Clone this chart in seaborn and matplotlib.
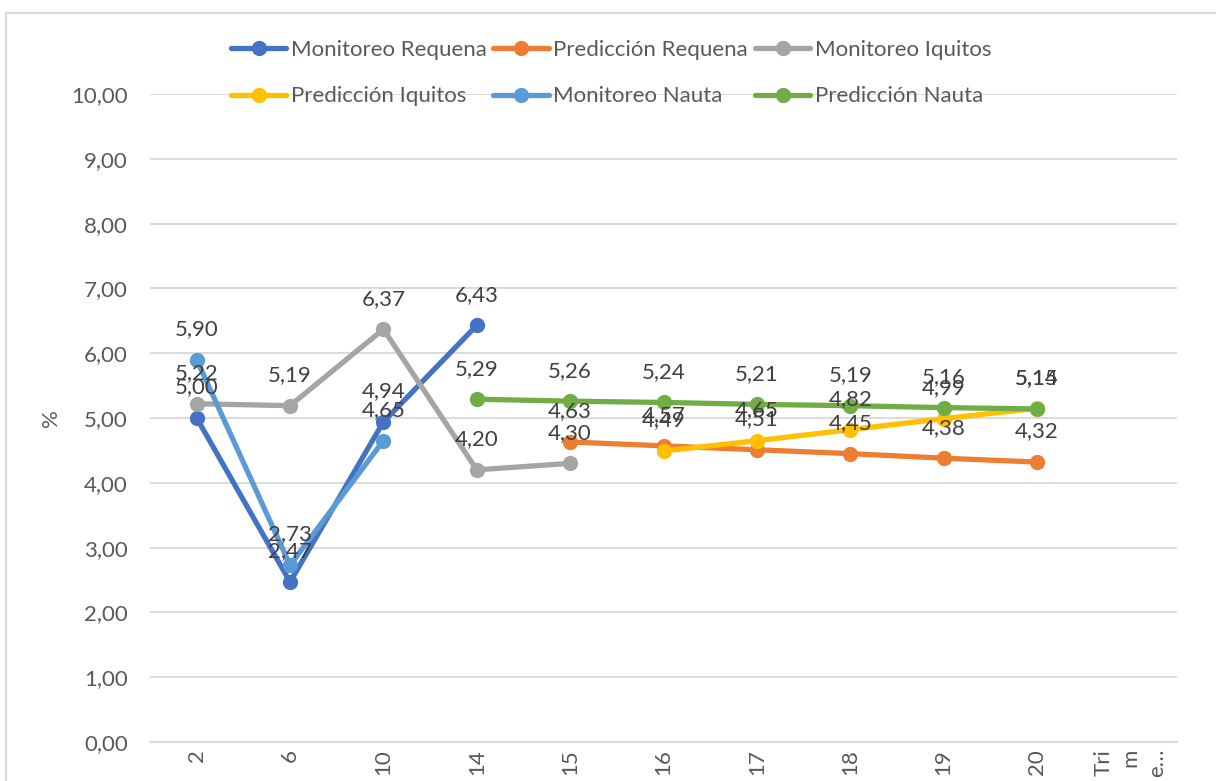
import numpy as np
import pandas as pd
import matplotlib.pyplot as plt
import seaborn as sns
from matplotlib.patches import Rectangle
from matplotlib.ticker import FuncFormatter

# categorias del eje x (ultima etiqueta cortada como en excel)
categories = ["2", "6", "10", "14", "15", "16", "17", "18", "19", "20", "Tri\nm\ne…"]

nan = np.nan
monitoreo_requena = [5.00, 2.47, 4.94, 6.43, nan, nan, nan, nan, nan, nan, nan]
prediccion_requena = [nan, nan, nan, nan, 4.63, 4.57, 4.51, 4.45, 4.38, 4.32, nan]
monitoreo_iquitos = [5.22, 5.19, 6.37, 4.20, 4.30, nan, nan, nan, nan, nan, nan]
prediccion_iquitos = [nan, nan, nan, nan, nan, 4.49, 4.65, 4.82, 4.99, 5.15, nan]
monitoreo_nauta = [5.90, 2.73, 4.65, nan, nan, nan, nan, nan, nan, nan, nan]
prediccion_nauta = [nan, nan, nan, 5.29, 5.26, 5.24, 5.21, 5.19, 5.16, 5.14, nan]

series_names = ["Monitoreo Requena", "Predicción Requena", "Monitoreo Iquitos",
                "Predicción Iquitos", "Monitoreo Nauta", "Predicción Nauta"]
series_values = [monitoreo_requena, prediccion_requena, monitoreo_iquitos,
                 prediccion_iquitos, monitoreo_nauta, prediccion_nauta]
colors = ["#4472C4", "#ED7D31", "#A5A5A5", "#FFC000", "#5B9BD5", "#70AD47"]

# tabla larga para seaborn
rows = []
for name, vals in zip(series_names, series_values):
    for i, v in enumerate(vals):
        if not np.isnan(v):
            rows.append({"pos": i, "valor": v, "serie": name})
df = pd.DataFrame(rows)

sns.set_style("white")
plt.rcParams['font.family'] = ['Lato', 'DejaVu Sans']

fig = plt.figure(figsize=(12.16, 7.81), dpi=100)
ax = fig.add_axes([150/1216, 1 - 742/781, (1177-150)/1216, (742-94)/781])

# borde del grafico
fig.patches.append(Rectangle((6/1216, -0.05), 1.1, 1 - 13/781 + 0.05, transform=fig.transFigure,
                             fill=False, edgecolor="#D9D9D9", lw=1.5, zorder=0))

sns.lineplot(data=df, x="pos", y="valor", hue="serie", hue_order=series_names,
             palette=colors, estimator=None, sort=False, marker="o", markersize=11,
             markeredgewidth=0, lw=3.8, legend=False, ax=ax)

# etiquetas de datos
for name, vals in zip(series_names, series_values):
    for i, v in enumerate(vals):
        if np.isnan(v):
            continue
        ax.annotate("{:.2f}".format(v).replace(".", ","), (i, v), xytext=(0, 22),
                    textcoords="offset points", ha="center", va="center",
                    fontsize=16, color="#404040", zorder=10)

ax.set_xlim(-0.5, len(categories) - 0.5)
ax.set_ylim(0, 10)
ax.set_yticks(np.arange(0, 11, 1))
ax.yaxis.set_major_formatter(FuncFormatter(lambda v, p: "{:.2f}".format(v).replace(".", ",")))
ax.grid(axis="y", color="#D9D9D9", lw=1.3)
ax.grid(axis="x", visible=False)
ax.set_axisbelow(True)

ax.set_xticks(range(len(categories)))
ax.set_xticklabels(categories, rotation=90)
ax.set_xticks(np.arange(-0.5, len(categories), 1), minor=True)
ax.tick_params(axis="x", which="major", length=0, pad=5, labelsize=16, labelcolor="#595959")
ax.tick_params(axis="x", which="minor", length=40, width=1.5, color="#D9D9D9", direction="out")
ax.tick_params(axis="y", length=0, pad=16, labelsize=16, labelcolor="#595959")
lbl = ax.get_xticklabels()[-1]
lbl.set_multialignment("right")
lbl.set_linespacing(1.4)

for s in ["top", "right", "left"]:
    ax.spines[s].set_visible(False)
ax.spines["bottom"].set_color("#D9D9D9")
ax.spines["bottom"].set_linewidth(1.5)

ax.set_xlabel("")
ax.set_ylabel("%", fontsize=16, color="#595959")
ax.yaxis.set_label_coords(-0.087, 0.5)

# leyenda en dos filas
handles = ax.lines[:len(series_names)]
order = [0, 3, 1, 4, 2, 5]
fig.legend([handles[i] for i in order], [series_names[i] for i in order], ncol=3,
           loc="center", bbox_to_anchor=(0.5025, 1 - 73/781), frameon=False,
           fontsize=16, labelcolor="#595959", handlelength=2.5, handletextpad=0.2,
           columnspacing=0.3, labelspacing=1.2, borderpad=0, borderaxespad=0)

fig.savefig("out.png", dpi=100)
